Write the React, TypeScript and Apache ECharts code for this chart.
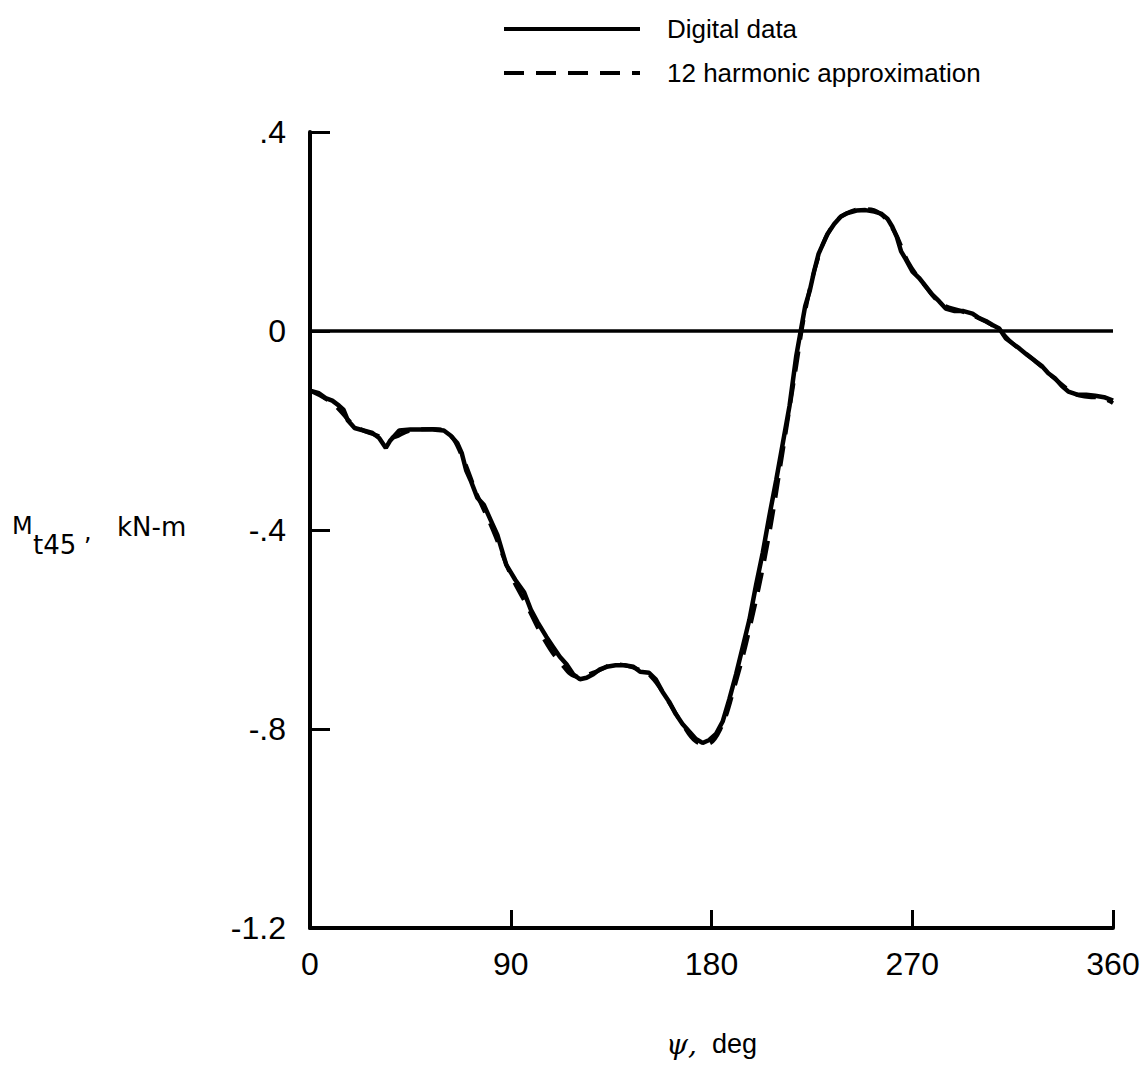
import React, { useEffect, useRef } from "react";
import * as echarts from "echarts";

const xTicks = [0, 90, 180, 270, 360];
const yTicks = [0.4, 0, -0.4, -0.8, -1.2];
const yTickLabels: Record<string, string> = { "0.4": ".4", "0": "0", "-0.4": "-.4", "-0.8": "-.8", "-1.2": "-1.2" };

const digitalPsi = [0, 4, 7, 10, 13, 15, 17, 20, 24, 28, 31, 34, 36, 38, 40, 45, 50, 55, 60, 63, 66, 68, 70, 72, 75, 78, 81, 84, 86, 88, 92, 96, 99, 102, 106, 109, 112, 115, 118, 121, 124, 127, 130, 133, 137, 141, 145, 148, 152, 155, 158, 161, 164, 167, 170, 173, 176, 179, 182, 185, 188, 191, 194, 197, 200, 203, 206, 209, 212, 215, 218, 220, 222, 224, 226, 228, 230, 232, 235, 238, 241, 245, 249, 253, 256, 259, 261, 263, 265, 267, 270, 273, 276, 279, 282, 285, 289, 293, 297, 300, 303, 306, 309, 312, 315, 318, 321, 325, 328, 331, 334, 337, 340, 344, 348, 352, 356, 360];
const digitalM = [-0.12, -0.125, -0.135, -0.14, -0.15, -0.158, -0.18, -0.195, -0.2, -0.205, -0.215, -0.235, -0.22, -0.21, -0.2, -0.198, -0.198, -0.198, -0.2, -0.21, -0.225, -0.245, -0.28, -0.3, -0.335, -0.35, -0.38, -0.41, -0.44, -0.47, -0.5, -0.525, -0.56, -0.585, -0.615, -0.635, -0.655, -0.67, -0.69, -0.7, -0.697, -0.69, -0.68, -0.675, -0.672, -0.672, -0.675, -0.685, -0.687, -0.7, -0.725, -0.745, -0.77, -0.79, -0.805, -0.82, -0.828, -0.822, -0.81, -0.785, -0.74, -0.69, -0.635, -0.58, -0.51, -0.445, -0.37, -0.3, -0.225, -0.15, -0.05, 0.0, 0.05, 0.08, 0.12, 0.155, 0.175, 0.195, 0.215, 0.23, 0.237, 0.242, 0.243, 0.24, 0.236, 0.225, 0.21, 0.19, 0.16, 0.145, 0.12, 0.107, 0.09, 0.073, 0.06, 0.045, 0.04, 0.04, 0.035, 0.026, 0.02, 0.012, 0.005, -0.015, -0.025, -0.035, -0.046, -0.06, -0.07, -0.085, -0.095, -0.11, -0.122, -0.128, -0.128, -0.13, -0.133, -0.14];

const harmonicPsi = [0, 10, 20, 30, 36, 45, 55, 62, 68, 75, 82, 90, 97, 105, 112, 120, 128, 137, 146, 153, 160, 167, 173, 178, 184, 190, 197, 205, 212, 218, 222, 228, 234, 240, 248, 255, 262, 268, 275, 283, 292, 300, 308, 315, 325, 335, 345, 355, 360];
const harmonicM = [-0.12, -0.145, -0.19, -0.21, -0.215, -0.2, -0.197, -0.205, -0.25, -0.33, -0.4, -0.49, -0.55, -0.62, -0.665, -0.695, -0.685, -0.67, -0.678, -0.695, -0.74, -0.79, -0.825, -0.83, -0.8, -0.72, -0.6, -0.43, -0.24, -0.07, 0.04, 0.15, 0.21, 0.235, 0.245, 0.238, 0.2, 0.14, 0.095, 0.055, 0.04, 0.025, 0.005, -0.025, -0.06, -0.1, -0.13, -0.135, -0.145];

const seriesNames = ["Digital data", "12 harmonic approximation"];

const FONT = "'Liberation Sans', Arial, sans-serif";
const DEJAVU = "DejaVu Sans";

export default function App() {
  const ref = useRef<HTMLDivElement>(null);
  useEffect(() => {
    if (!ref.current) return;
    const chart = echarts.init(ref.current, undefined, { renderer: "svg" });
    const digital = digitalPsi.map((x, i) => [x, digitalM[i]]);
    const harmonic = harmonicPsi.map((x, i) => [x, harmonicM[i]]);
    const ttl = (id: string, text: string, x: number, y: number, size: number) => ({
      type: "text",
      id,
      x,
      y,
      style: { text, fontSize: size, fontFamily: DEJAVU, fill: "#000", verticalAlign: "middle", align: "left" },
    });
    chart.setOption({
      animation: false,
      backgroundColor: "#ffffff",
      textStyle: { fontFamily: FONT, color: "#000" },
      grid: { left: 310, top: 132, width: 803, height: 796, containLabel: false, outerBoundsMode: "none" },
      legend: {
        orient: "vertical",
        left: 497,
        top: 11,
        itemWidth: 136,
        itemHeight: 24,
        itemGap: 18,
        data: seriesNames,
        itemStyle: { opacity: 0 },
        lineStyle: { width: 4 },
        textStyle: { fontFamily: FONT, fontSize: 26, color: "#000", padding: [0, 0, 0, 22] },
      },
      xAxis: {
        type: "value",
        min: 0,
        max: 360,
        interval: 90,
        name: "{psi|ψ,}  deg",
        nameLocation: "middle",
        nameGap: 102,
        nameTextStyle: {
          fontFamily: FONT,
          fontSize: 27,
          color: "#000",
          rich: { psi: { fontFamily: "'DejaVu Serif', serif", fontStyle: "italic", fontSize: 28, color: "#000" } },
        },
        axisLine: { show: true, onZero: false, lineStyle: { color: "#000", width: 4 } },
        axisTick: { show: true, inside: true, length: 18, lineStyle: { color: "#000", width: 3 } },
        axisLabel: { fontFamily: FONT, fontSize: 32, color: "#000", margin: 20, formatter: (v: number) => (xTicks.includes(v) ? String(v) : "") },
        splitLine: { show: false },
      },
      yAxis: {
        type: "value",
        min: -1.2,
        max: 0.4,
        interval: 0.4,
        axisLine: { show: true, onZero: false, lineStyle: { color: "#000", width: 4 } },
        axisTick: { show: true, inside: true, length: 20, lineStyle: { color: "#000", width: 3 } },
        axisLabel: {
          fontFamily: FONT,
          fontSize: 32,
          color: "#000",
          margin: 24,
          formatter: (v: number) => {
            const k = String(Math.round(v * 10) / 10);
            return yTickLabels[k] ?? "";
          },
        },
        splitLine: { show: false },
      },
      graphic: [
        ttl("ym", "M", 12, 526, 24),
        ttl("ysub", "t45", 33, 545, 26),
        ttl("ycomma", ",", 84, 532, 24),
        ttl("yunit", "kN-m", 117, 527, 26),
      ],
      series: [
        {
          name: seriesNames[0],
          type: "line",
          data: digital,
          symbol: "none",
          itemStyle: { color: "#000" },
          lineStyle: { color: "#000", width: 4.5, type: "solid" },
          markLine: {
            silent: true,
            symbol: "none",
            label: { show: false },
            lineStyle: { color: "#000", width: 3.5, type: "solid" },
            data: [{ yAxis: 0 }],
          },
        },
        {
          name: seriesNames[1],
          type: "line",
          data: harmonic,
          smooth: 0.4,
          symbol: "none",
          itemStyle: { color: "#000" },
          lineStyle: { color: "#000", width: 4, type: [20, 12] },
        },
      ],
    });
    return () => chart.dispose();
  }, []);
  return <div ref={ref} style={{ position: "fixed", left: 0, top: 0, width: 1143, height: 1070 }} />;
}
